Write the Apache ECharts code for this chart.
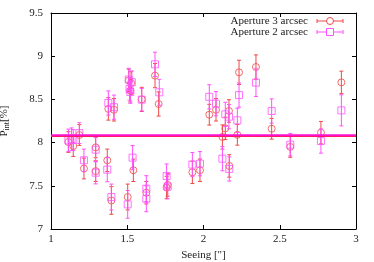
<!DOCTYPE html>
<html><head><meta charset="utf-8">
<script src="https://cdn.jsdelivr.net/npm/echarts@6/dist/echarts.min.js"></script>
<style>html,body{margin:0;padding:0;background:#fff}#c{width:374px;height:262px}</style>
</head><body><div id="c"></div>
<script>
// Aperture 3 arcsec (circles)
const seeing3 = [1.114,1.146,1.186,1.216,1.293,1.293,1.369,1.376,1.396,1.413,1.503,1.51,1.52,1.525,1.54,1.595,1.625,1.682,1.706,1.758,1.765,1.927,1.977,2.038,2.082,2.124,2.143,2.167,2.169,2.222,2.233,2.344,2.447,2.569,2.77,2.904];
const pint3   = [8.007,7.96,8.088,7.70,7.945,7.67,7.795,8.39,7.33,8.38,7.37,8.72,8.60,8.69,7.68,8.50,7.42,8.775,8.447,7.48,7.51,7.656,7.68,8.323,8.38,8.065,8.165,8.366,7.73,8.09,8.813,8.875,8.16,7.95,8.115,8.697];
const err3    = [0.12,0.12,0.12,0.12,0.12,0.12,0.13,0.13,0.16,0.13,0.15,0.13,0.13,0.13,0.13,0.14,0.13,0.14,0.14,0.13,0.13,0.13,0.13,0.12,0.13,0.14,0.13,0.13,0.13,0.12,0.14,0.14,0.12,0.12,0.13,0.13];
// Aperture 2 arcsec (squares)
const seeing2 = [1.114,1.135,1.146,1.186,1.216,1.293,1.293,1.369,1.376,1.396,1.413,1.503,1.51,1.515,1.52,1.53,1.535,1.595,1.625,1.625,1.682,1.71,1.758,1.765,1.927,1.977,2.038,2.082,2.124,2.143,2.167,2.169,2.222,2.233,2.344,2.447,2.569,2.77,2.904];
const pint2   = [8.026,8.04,8.03,8.11,7.795,7.918,7.652,7.687,8.458,7.37,8.41,7.285,8.73,8.62,8.585,8.70,7.826,8.497,7.467,7.35,8.906,8.582,7.613,7.49,7.745,7.756,8.53,8.45,7.814,8.327,8.30,7.695,8.258,8.55,8.694,8.366,7.976,8.018,8.373];
const err2    = [0.13,0.13,0.12,0.12,0.13,0.14,0.13,0.14,0.14,0.15,0.14,0.16,0.13,0.13,0.13,0.13,0.14,0.13,0.15,0.15,0.14,0.15,0.14,0.14,0.14,0.14,0.14,0.14,0.14,0.14,0.14,0.14,0.14,0.14,0.16,0.14,0.13,0.14,0.18];
// mean levels
const mean3 = 8.075;
const mean2 = 8.085;
const xTicks = [1, 1.5, 2, 2.5, 3];
const yTicks = [7, 7.5, 8, 8.5, 9, 9.5];
const seriesNames = ['Aperture 3 arcsec', 'Aperture 2 arcsec'];

const RED = '#f04848';
const MAG = '#ff50ff';
const FONT = '"Liberation Serif","DejaVu Serif",serif';

function zip(xs, ys, es) { return xs.map((x, i) => [x, ys[i], es[i]]); }
function errRender(color) {
  return function (params, api) {
    const x = api.value(0), y = api.value(1), e = api.value(2);
    const t = api.coord([x, y + e]), b = api.coord([x, y - e]);
    const cw = 2;
    const st = { stroke: color, lineWidth: 1 };
    return { type: 'group', children: [
      { type: 'line', shape: { x1: t[0], y1: t[1], x2: b[0], y2: b[1] }, style: st },
      { type: 'line', shape: { x1: t[0] - cw, y1: t[1], x2: t[0] + cw, y2: t[1] }, style: st },
      { type: 'line', shape: { x1: b[0] - cw, y1: b[1], x2: b[0] + cw, y2: b[1] }, style: st }
    ]};
  };
}

const chart = echarts.init(document.getElementById('c'), null, { renderer: 'canvas' });
const axisCommon = {
  type: 'value', splitLine: { show: false },
  axisLine: { show: true, lineStyle: { color: '#000', width: 1 } },
  axisTick: { show: true, inside: true, length: 4, lineStyle: { color: '#000' } },
  axisLabel: { color: '#222', fontFamily: FONT, fontSize: 11 }
};
const legendX1 = 317, legendX2 = 343, legendXm = 330, legendY1 = 21, legendY2 = 32;
chart.setOption({
  animation: false,
  grid: { left: 51, right: 18, top: 13, bottom: 33, containLabel: false, outerBoundsMode: 'none' },
  xAxis: [
    Object.assign({}, axisCommon, { min: xTicks[0], max: xTicks[xTicks.length - 1], interval: 0.5,
      axisLabel: Object.assign({}, axisCommon.axisLabel, { margin: 5, formatter: v => String(v) }),
      name: 'Seeing ["]', nameLocation: 'middle', nameGap: 20,
      nameTextStyle: { fontFamily: FONT, fontSize: 11, color: '#222' } }),
    Object.assign({}, axisCommon, { position: 'top', min: 1, max: 3, interval: 0.5, axisLabel: { show: false } })
  ],
  yAxis: [
    Object.assign({}, axisCommon, { min: yTicks[0], max: yTicks[yTicks.length - 1], interval: 0.5,
      axisLabel: Object.assign({}, axisCommon.axisLabel, { margin: 8, formatter: v => String(v) }),
      name: '{a|P}{s|int}{a|[%]}', nameLocation: 'middle', nameGap: 40, nameRotate: 90,
      nameTextStyle: { fontFamily: FONT, fontSize: 11, color: '#222',
        rich: { a: { fontFamily: FONT, fontSize: 11, color: '#222', lineHeight: 14, verticalAlign: 'middle' },
                s: { fontFamily: FONT, fontSize: 8, color: '#222', lineHeight: 14, verticalAlign: 'bottom', padding: [6, 0, 0, 0] } } } }),
    Object.assign({}, axisCommon, { position: 'right', min: 7, max: 9.5, interval: 0.5, axisLabel: { show: false } })
  ],
  graphic: [
    { type: 'text', x: 308, y: legendY1, style: { text: seriesNames[0], fill: '#222', font: '11px ' + FONT, textAlign: 'right', textVerticalAlign: 'middle' } },
    { type: 'text', x: 308, y: legendY2, style: { text: seriesNames[1], fill: '#222', font: '11px ' + FONT, textAlign: 'right', textVerticalAlign: 'middle' } },
    { type: 'line', shape: { x1: legendX1, y1: legendY1, x2: legendX2, y2: legendY1 }, style: { stroke: RED, lineWidth: 1 } },
    { type: 'line', shape: { x1: legendX1, y1: legendY1 - 2, x2: legendX1, y2: legendY1 + 2 }, style: { stroke: RED, lineWidth: 1 } },
    { type: 'line', shape: { x1: legendX2, y1: legendY1 - 2, x2: legendX2, y2: legendY1 + 2 }, style: { stroke: RED, lineWidth: 1 } },
    { type: 'circle', shape: { cx: legendXm, cy: legendY1, r: 3.5 }, style: { fill: '#fff', stroke: RED, lineWidth: 1 } },
    { type: 'line', shape: { x1: legendX1, y1: legendY2, x2: legendX2, y2: legendY2 }, style: { stroke: MAG, lineWidth: 1 } },
    { type: 'line', shape: { x1: legendX1, y1: legendY2 - 2, x2: legendX1, y2: legendY2 + 2 }, style: { stroke: MAG, lineWidth: 1 } },
    { type: 'line', shape: { x1: legendX2, y1: legendY2 - 2, x2: legendX2, y2: legendY2 + 2 }, style: { stroke: MAG, lineWidth: 1 } },
    { type: 'rect', shape: { x: legendXm - 3.5, y: legendY2 - 3.5, width: 7, height: 7 }, style: { fill: '#fff', stroke: MAG, lineWidth: 1 } }
  ],
  series: [
    { type: 'custom', name: seriesNames[0] + ' err', renderItem: errRender(RED), data: zip(seeing3, pint3, err3), encode: { x: 0, y: 1 }, silent: true, z: 2 },
    { type: 'scatter', name: seriesNames[0], data: zip(seeing3, pint3, err3), symbol: 'circle', symbolSize: 7,
      itemStyle: { color: 'rgba(0,0,0,0)', borderColor: RED, borderWidth: 1 }, z: 3 },
    { type: 'custom', name: seriesNames[1] + ' err', renderItem: errRender(MAG), data: zip(seeing2, pint2, err2), encode: { x: 0, y: 1 }, silent: true, z: 4 },
    { type: 'scatter', name: seriesNames[1], data: zip(seeing2, pint2, err2), symbol: 'rect', symbolSize: 7,
      itemStyle: { color: 'rgba(0,0,0,0)', borderColor: MAG, borderWidth: 1 }, z: 5 },
    { type: 'line', data: [[1, mean3], [3, mean3]], symbol: 'none', lineStyle: { color: '#ff2040', width: 2 }, z: 6 },
    { type: 'line', data: [[1, mean2], [3, mean2]], symbol: 'none', lineStyle: { color: '#ff10d0', width: 2 }, z: 7 }
  ]
});
</script></body></html>
